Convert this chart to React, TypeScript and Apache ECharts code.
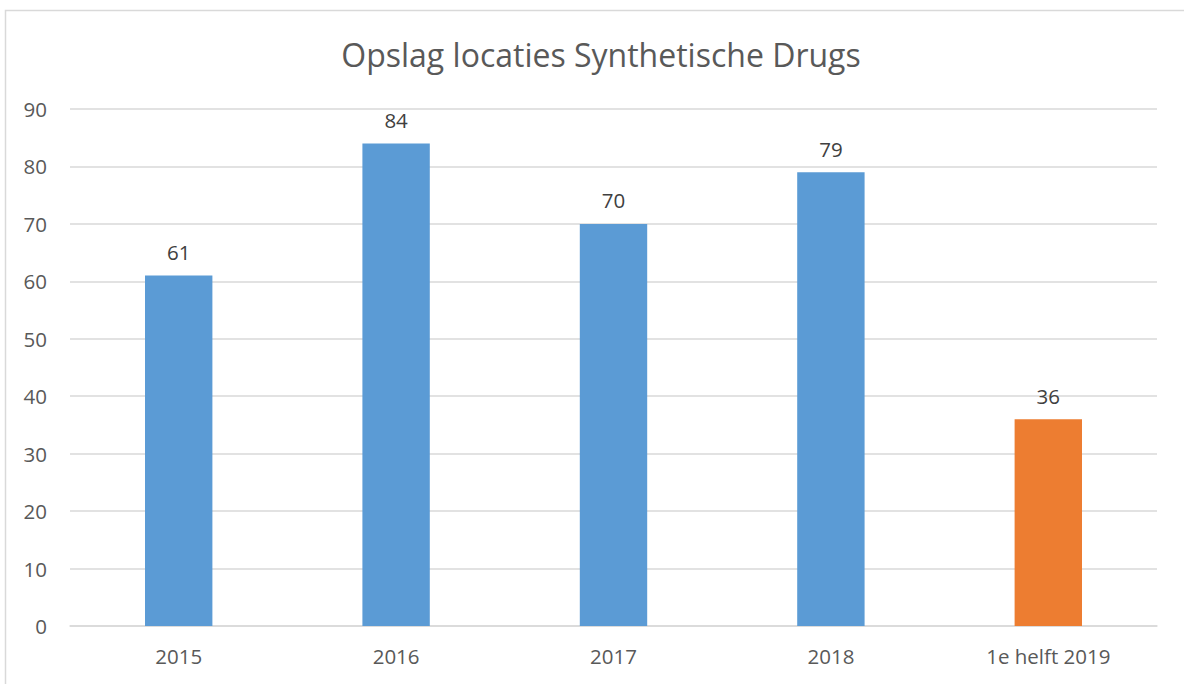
import React, { useEffect, useRef } from "react";
import * as echarts from "echarts";

const categories = ["2015", "2016", "2017", "2018", "1e helft 2019"];
const values = [61, 84, 70, 79, 36];
const barColors = ["#5B9BD5", "#5B9BD5", "#5B9BD5", "#5B9BD5", "#ED7D31"];
const title = "Opslag locaties Synthetische Drugs";

export default function App() {
  const ref = useRef<HTMLDivElement>(null);
  useEffect(() => {
    if (!ref.current) return;
    const chart = echarts.init(ref.current, undefined, { renderer: "svg" });
    const font = "'Open Sans', 'Noto Sans', sans-serif";
    chart.setOption({
      animation: false,
      backgroundColor: "#ffffff",
      textStyle: { fontFamily: font },
      title: {
        text: title,
        left: 596,
        textAlign: "center",
        top: 33,
        textStyle: { fontSize: 32, fontWeight: "normal", color: "#595959", fontFamily: font },
      },
      graphic: [
        {
          type: "rect",
          shape: { x: 5.5, y: 10.5, width: 1300, height: 800 },
          style: { fill: "none", stroke: "#d9d9d9", lineWidth: 1.5 },
          silent: true,
        },
      ],
      grid: { left: 70, right: 27, top: 109, bottom: 58, containLabel: false },
      xAxis: {
        type: "category",
        data: categories,
        axisLine: { lineStyle: { color: "#d9d9d9", width: 1.5 } },
        axisTick: { show: false },
        axisLabel: { color: "#595959", fontSize: 20.5, margin: 19, fontFamily: font },
      },
      yAxis: {
        type: "value",
        min: 0,
        max: 90,
        interval: 10,
        axisLine: { show: false },
        axisTick: { show: false },
        splitLine: { lineStyle: { color: "#d9d9d9", width: 1.5 } },
        axisLabel: { color: "#595959", fontSize: 20.5, margin: 23, fontFamily: font },
      },
      series: [
        {
          type: "bar",
          barWidth: "31%",
          data: values.map((v, i) => ({ value: v, itemStyle: { color: barColors[i] } })),
          label: {
            show: true,
            position: "top",
            distance: 13,
            color: "#404040",
            fontSize: 20.5,
            fontFamily: font,
          },
        },
      ],
    });
    return () => chart.dispose();
  }, []);
  return (
    <div
      ref={ref}
      style={{ position: "fixed", left: 0, top: 0, width: 1184, height: 684 }}
    />
  );
}
